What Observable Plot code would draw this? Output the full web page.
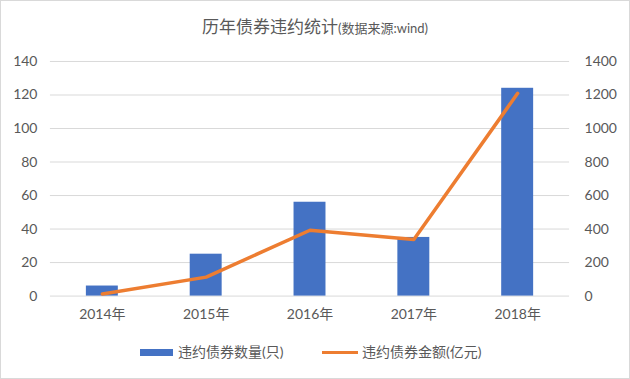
<!DOCTYPE html>
<html><head><meta charset="utf-8">
<script src="https://cdn.jsdelivr.net/npm/d3@7"></script>
<script src="https://cdn.jsdelivr.net/npm/@observablehq/plot@0.6"></script>
<style>
body{margin:0;background:#fff;}
#frame{width:630px;height:379px;box-sizing:border-box;border:1px solid #d9d9d9;position:relative;font-family:Lato,"Noto Sans CJK SC",sans-serif;color:#595959;overflow:hidden;background:#fff}
#title{position:absolute;top:15px;left:0;width:100%;text-align:center;font-size:17px;line-height:22px;white-space:nowrap}
#title small{font-size:13px}
#chart{position:absolute;top:44px;left:-1px}
.sw{position:absolute}
.lt{position:absolute;font-size:14px;line-height:18px;white-space:nowrap}
</style></head>
<body>
<div id="frame">
  <div id="title">历年债券违约统计<small>(数据来源:wind)</small></div>
  <div id="chart"></div>
  <div class="sw" style="left:139px;top:348px;width:33px;height:7px;background:#4472C4"></div>
  <div class="lt" style="left:177px;top:342px">违约债券数量(只)</div>
  <div class="sw" style="left:321px;top:350px;width:36px;height:3px;background:#ED7D31"></div>
  <div class="lt" style="left:361px;top:342px">违约债券金额(亿元)</div>
</div>
<script>
const years = ["2014年","2015年","2016年","2017年","2018年"];
const counts = [6, 25, 56, 35, 124];
const amounts = [12, 113, 393, 337, 1210];
const leftTicks = [0,20,40,60,80,100,120,140];
const ratio = 10; // right axis (亿元) / left axis (只)

const data = years.map((y,i)=>({year:y, count:counts[i], amount:amounts[i]}));

const chart = Plot.plot({
  width: 630,
  height: 276,
  marginLeft: 50,
  marginRight: 60,
  marginTop: 16,
  marginBottom: 25,
  style: {fontFamily: 'Lato,"Noto Sans CJK SC",sans-serif', fontSize: "14px", color: "#595959", background: "transparent"},
  x: {domain: years, paddingInner: 0.69, paddingOuter: 0.345, label: null},
  y: {domain: [0, 140], label: null},
  marks: [
    Plot.gridY(leftTicks, {stroke: "#d9d9d9", strokeOpacity: 1, strokeWidth: 1}),
    Plot.barY(data, {x: "year", y: "count", fill: "#4472C4"}),
    Plot.line(data, {x: "year", y: d => d.amount / ratio, stroke: "#ED7D31", strokeWidth: 3.5, strokeLinecap: "round", strokeLinejoin: "round"}),
    Plot.axisY(leftTicks, {anchor: "left", tickSize: 0, tickPadding: 13, label: null, fontSize: 14}),
    Plot.axisY(leftTicks, {anchor: "right", tickSize: 0, tickPadding: 15, label: null, fontSize: 14, tickFormat: d => String(d * ratio), textAnchor: "start"}),
    Plot.axisX({anchor: "bottom", tickSize: 0, tickPadding: 13, label: null, fontSize: 14})
  ]
});
document.getElementById("chart").appendChild(chart);
</script>
</body></html>
